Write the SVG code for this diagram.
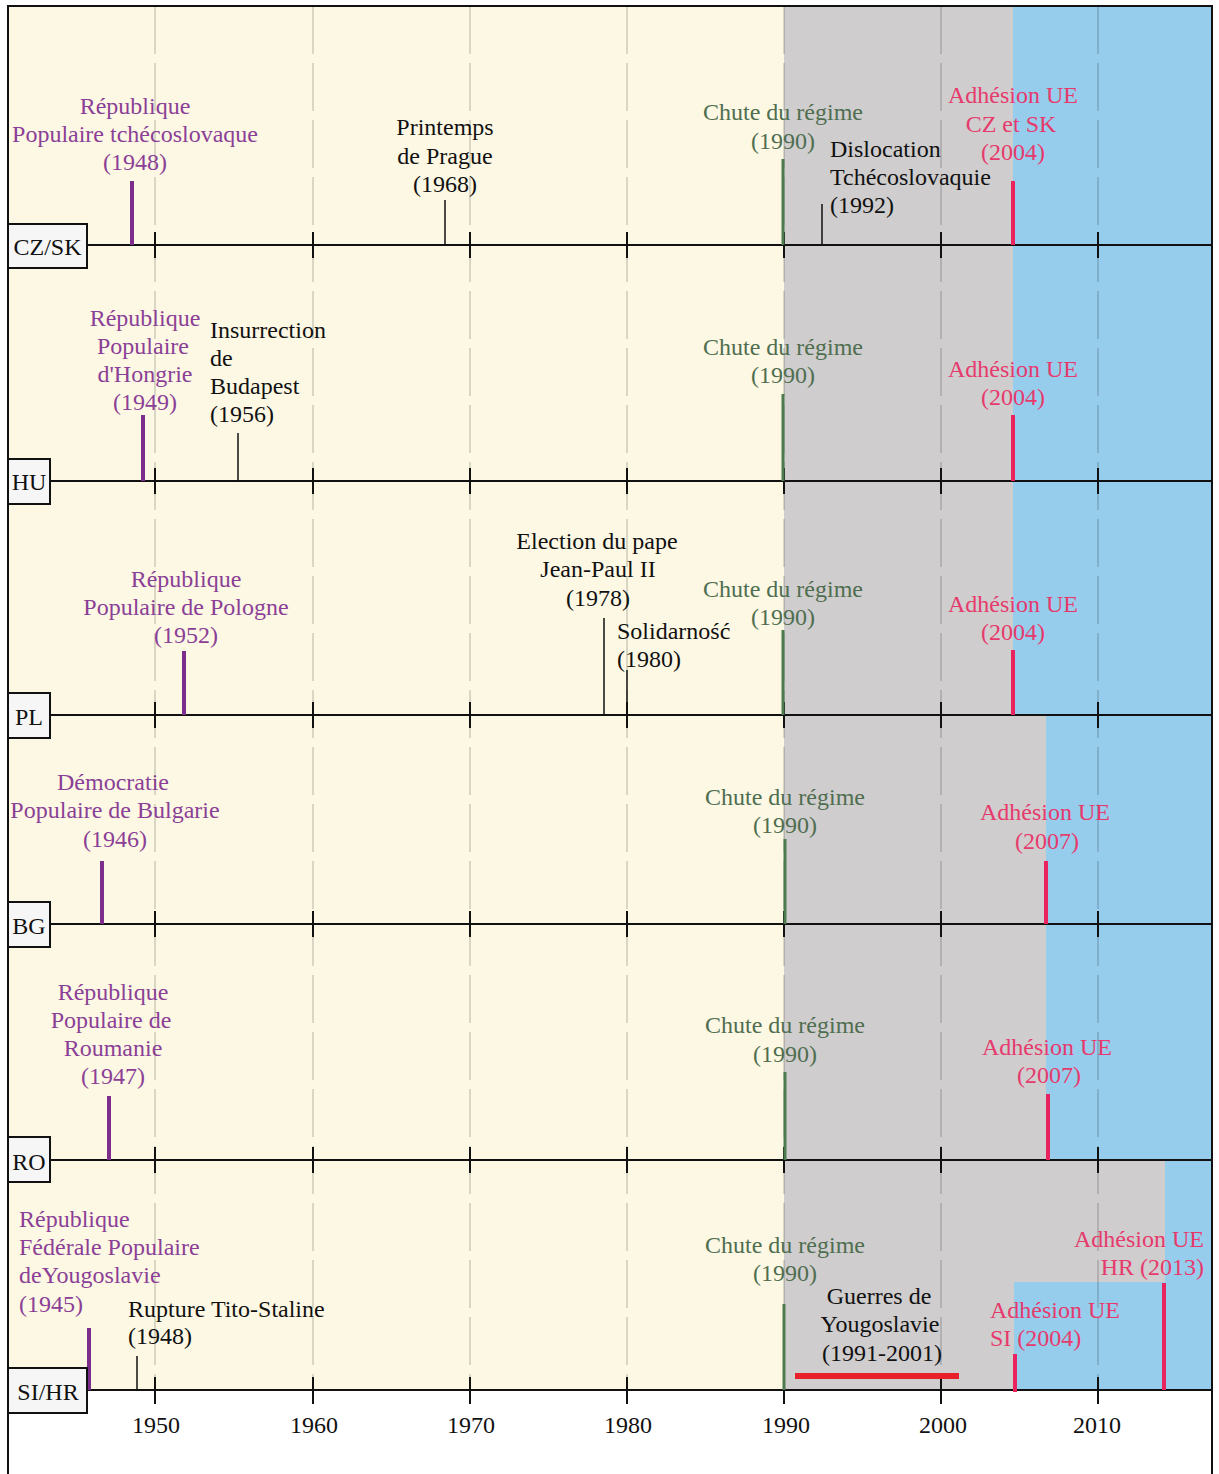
<svg xmlns="http://www.w3.org/2000/svg" width="1219" height="1474" viewBox="0 0 1219 1474">
<style>
.t{font-family:"Liberation Serif","Times New Roman",serif;font-size:24px}
.m{text-anchor:middle}
.e{text-anchor:end}
.pu{fill:#8b3f96}
.gr{fill:#4f6e50}
.pk{fill:#e63a6d}
.bk{fill:#111}
.grid{stroke:#000;stroke-opacity:0.28;stroke-width:1;stroke-dasharray:48 9}
.axis{stroke:#111;stroke-width:2}
.tick{stroke:#111;stroke-width:2}
.box{fill:#f6f6f6;stroke:#111;stroke-width:2}
.bpu{stroke:#7d2e8c;stroke-width:4}
.bgr{stroke:#4d7a4f;stroke-width:3}
.bpk{stroke:#e8235e;stroke-width:4}
.bbk{stroke:#111;stroke-width:1.5}
</style>
<rect x="0" y="0" width="1219" height="1474" fill="#fff"/>
<g id="background">
<rect x="8" y="6" width="776" height="1384" fill="#fdf8e4"/>
<rect x="784" y="6" width="229" height="709" fill="#cfcdce"/>
<rect x="1013" y="6" width="199" height="709" fill="#97cdec"/>
<rect x="784" y="715" width="262" height="445" fill="#cfcdce"/>
<rect x="1046" y="715" width="166" height="445" fill="#97cdec"/>
<rect x="784" y="1160" width="381" height="230" fill="#cfcdce"/>
<rect x="1165" y="1160" width="47" height="230" fill="#97cdec"/>
<rect x="1014" y="1282" width="151" height="108" fill="#97cdec"/>
</g>
<g id="grid">
<line class="grid" x1="155" y1="6" x2="155" y2="1390"/>
<line class="grid" x1="313" y1="6" x2="313" y2="1390"/>
<line class="grid" x1="470" y1="6" x2="470" y2="1390"/>
<line class="grid" x1="627" y1="6" x2="627" y2="1390"/>
<line class="grid" x1="784" y1="6" x2="784" y2="1390"/>
<line class="grid" x1="941" y1="6" x2="941" y2="1390"/>
<line class="grid" x1="1098" y1="6" x2="1098" y2="1390"/>
</g>
<g id="frame" fill="none" stroke="#111" stroke-width="2">
<polyline points="8,1474 8,6 1212,6 1212,1474"/>
</g>
<g id="axes">
<line class="axis" x1="8" y1="245" x2="1212" y2="245"/>
<line class="axis" x1="8" y1="481" x2="1212" y2="481"/>
<line class="axis" x1="8" y1="715" x2="1212" y2="715"/>
<line class="axis" x1="8" y1="924" x2="1212" y2="924"/>
<line class="axis" x1="8" y1="1160" x2="1212" y2="1160"/>
<line class="axis" x1="8" y1="1390" x2="1212" y2="1390"/>
</g>
<g id="ticks">
<path class="tick" d="M155 232V258M313 232V258M470 232V258M627 232V258M784 232V258M941 232V258M1098 232V258"/>
<path class="tick" d="M155 468V494M313 468V494M470 468V494M627 468V494M784 468V494M941 468V494M1098 468V494"/>
<path class="tick" d="M155 702V728M313 702V728M470 702V728M627 702V728M784 702V728M941 702V728M1098 702V728"/>
<path class="tick" d="M155 911V937M313 911V937M470 911V937M627 911V937M784 911V937M941 911V937M1098 911V937"/>
<path class="tick" d="M155 1147V1173M313 1147V1173M470 1147V1173M627 1147V1173M784 1147V1173M941 1147V1173M1098 1147V1173"/>
<path class="tick" d="M155 1377V1404M313 1377V1404M470 1377V1404M627 1377V1404M784 1377V1404M941 1377V1404M1098 1377V1404"/>
</g>
<g id="years" class="t m bk">
<text x="156" y="1433">1950</text>
<text x="314" y="1433">1960</text>
<text x="471" y="1433">1970</text>
<text x="628" y="1433">1980</text>
<text x="786" y="1433">1990</text>
<text x="943" y="1433">2000</text>
<text x="1097" y="1433">2010</text>
</g>
<g id="connectors">
<line class="bpu" x1="132" y1="181" x2="132" y2="245"/>
<line class="bbk" x1="445" y1="200" x2="445" y2="245"/>
<line class="bgr" x1="783" y1="159" x2="783" y2="245"/>
<line class="bbk" x1="822" y1="204" x2="822" y2="245"/>
<line class="bpk" x1="1013" y1="181" x2="1013" y2="245"/>
<line class="bpu" x1="143" y1="415" x2="143" y2="481"/>
<line class="bbk" x1="238" y1="433" x2="238" y2="481"/>
<line class="bgr" x1="783" y1="394" x2="783" y2="481"/>
<line class="bpk" x1="1013" y1="415" x2="1013" y2="481"/>
<line class="bpu" x1="184" y1="651" x2="184" y2="715"/>
<line class="bbk" x1="604" y1="618" x2="604" y2="715"/>
<line class="bbk" x1="627" y1="670" x2="627" y2="715"/>
<line class="bgr" x1="783" y1="630" x2="783" y2="715"/>
<line class="bpk" x1="1013" y1="650" x2="1013" y2="715"/>
<line class="bpu" x1="102" y1="861" x2="102" y2="924"/>
<line class="bgr" x1="785" y1="839" x2="785" y2="924"/>
<line class="bpk" x1="1046" y1="861" x2="1046" y2="924"/>
<line class="bpu" x1="109" y1="1096" x2="109" y2="1160"/>
<line class="bgr" x1="785" y1="1072" x2="785" y2="1160"/>
<line class="bpk" x1="1048" y1="1094" x2="1048" y2="1160"/>
<line class="bpu" x1="89" y1="1328" x2="89" y2="1390"/>
<line class="bbk" x1="137" y1="1356" x2="137" y2="1390"/>
<line class="bgr" x1="784" y1="1304" x2="784" y2="1390"/>
<rect x="795" y="1373" width="164" height="6" fill="#e8212b"/>
<line class="bpk" x1="1015" y1="1354" x2="1015" y2="1392"/>
<line class="bpk" x1="1164" y1="1283" x2="1164" y2="1390"/>
</g>
<g id="row-labels">
<g id="lbl-czsk"><rect class="box" x="8" y="224" width="79" height="44"/><text class="t m bk" x="47.5" y="255">CZ/SK</text></g>
<g id="lbl-hu"><rect class="box" x="8" y="459" width="42" height="45"/><text class="t m bk" x="29" y="490">HU</text></g>
<g id="lbl-pl"><rect class="box" x="8" y="693" width="42" height="45"/><text class="t m bk" x="29" y="725">PL</text></g>
<g id="lbl-bg"><rect class="box" x="8" y="902" width="42" height="45"/><text class="t m bk" x="29" y="934">BG</text></g>
<g id="lbl-ro"><rect class="box" x="8" y="1137" width="42" height="45"/><text class="t m bk" x="29" y="1170">RO</text></g>
<g id="lbl-sihr"><rect class="box" x="8" y="1368" width="79" height="45"/><text class="t m bk" x="48" y="1400">SI/HR</text></g>
</g>
<g id="cz-1948" class="t m pu"><text x="135" y="114">République</text><text x="135" y="142">Populaire tchécoslovaque</text><text x="135" y="170">(1948)</text></g>
<g id="cz-1968" class="t m bk"><text x="445" y="135">Printemps</text><text x="445" y="164">de Prague</text><text x="445" y="192">(1968)</text></g>
<g id="cz-1990" class="t m gr"><text x="783" y="120">Chute du régime</text><text x="783" y="149">(1990)</text></g>
<g id="cz-1992" class="t bk"><text x="830" y="157">Dislocation</text><text x="830" y="185">Tchécoslovaquie</text><text x="830" y="213">(1992)</text></g>
<g id="cz-2004" class="t m pk"><text x="1013" y="103">Adhésion UE</text><text x="1011" y="132">CZ et SK</text><text x="1013" y="160">(2004)</text></g>
<g id="hu-1949" class="t m pu"><text x="145" y="326">République</text><text x="143" y="354">Populaire</text><text x="145" y="382">d'Hongrie</text><text x="145" y="410">(1949)</text></g>
<g id="hu-1956" class="t bk"><text x="210" y="338">Insurrection</text><text x="210" y="366">de</text><text x="210" y="394">Budapest</text><text x="210" y="422">(1956)</text></g>
<g id="hu-1990" class="t m gr"><text x="783" y="355">Chute du régime</text><text x="783" y="383">(1990)</text></g>
<g id="hu-2004" class="t m pk"><text x="1013" y="377">Adhésion UE</text><text x="1013" y="405">(2004)</text></g>
<g id="pl-1952" class="t m pu"><text x="186" y="587">République</text><text x="186" y="615">Populaire de Pologne</text><text x="186" y="643">(1952)</text></g>
<g id="pl-1978" class="t m bk"><text x="597" y="549">Election du pape</text><text x="598" y="577">Jean-Paul II</text><text x="598" y="606">(1978)</text></g>
<g id="pl-1980" class="t bk"><text x="617" y="639">Solidarność</text><text x="617" y="667">(1980)</text></g>
<g id="pl-1990" class="t m gr"><text x="783" y="597">Chute du régime</text><text x="783" y="625">(1990)</text></g>
<g id="pl-2004" class="t m pk"><text x="1013" y="612">Adhésion UE</text><text x="1013" y="640">(2004)</text></g>
<g id="bg-1946" class="t m pu"><text x="113" y="790">Démocratie</text><text x="115" y="818">Populaire de Bulgarie</text><text x="115" y="847">(1946)</text></g>
<g id="bg-1990" class="t m gr"><text x="785" y="805">Chute du régime</text><text x="785" y="833">(1990)</text></g>
<g id="bg-2007" class="t m pk"><text x="1045" y="820">Adhésion UE</text><text x="1047" y="849">(2007)</text></g>
<g id="ro-1947" class="t m pu"><text x="113" y="1000">République</text><text x="111" y="1028">Populaire de</text><text x="113" y="1056">Roumanie</text><text x="113" y="1084">(1947)</text></g>
<g id="ro-1990" class="t m gr"><text x="785" y="1033">Chute du régime</text><text x="785" y="1062">(1990)</text></g>
<g id="ro-2007" class="t m pk"><text x="1047" y="1055">Adhésion UE</text><text x="1049" y="1083">(2007)</text></g>
<g id="yu-1945" class="t pu"><text x="19" y="1227">République</text><text x="19" y="1255">Fédérale Populaire</text><text x="19" y="1283">deYougoslavie</text><text x="19" y="1312">(1945)</text></g>
<g id="yu-1948" class="t bk"><text x="128" y="1317">Rupture Tito-Staline</text><text x="128" y="1344">(1948)</text></g>
<g id="yu-1990" class="t m gr"><text x="785" y="1253">Chute du régime</text><text x="785" y="1281">(1990)</text></g>
<g id="yu-wars" class="t m bk"><text x="879" y="1304">Guerres de</text><text x="880" y="1332">Yougoslavie</text><text x="882" y="1361">(1991-2001)</text></g>
<g id="si-2004" class="t pk"><text x="990" y="1318">Adhésion UE</text><text x="990" y="1346">SI (2004)</text></g>
<g id="hr-2013" class="t e pk"><text x="1204" y="1247">Adhésion UE</text><text x="1204" y="1275">HR (2013)</text></g>
</svg>
